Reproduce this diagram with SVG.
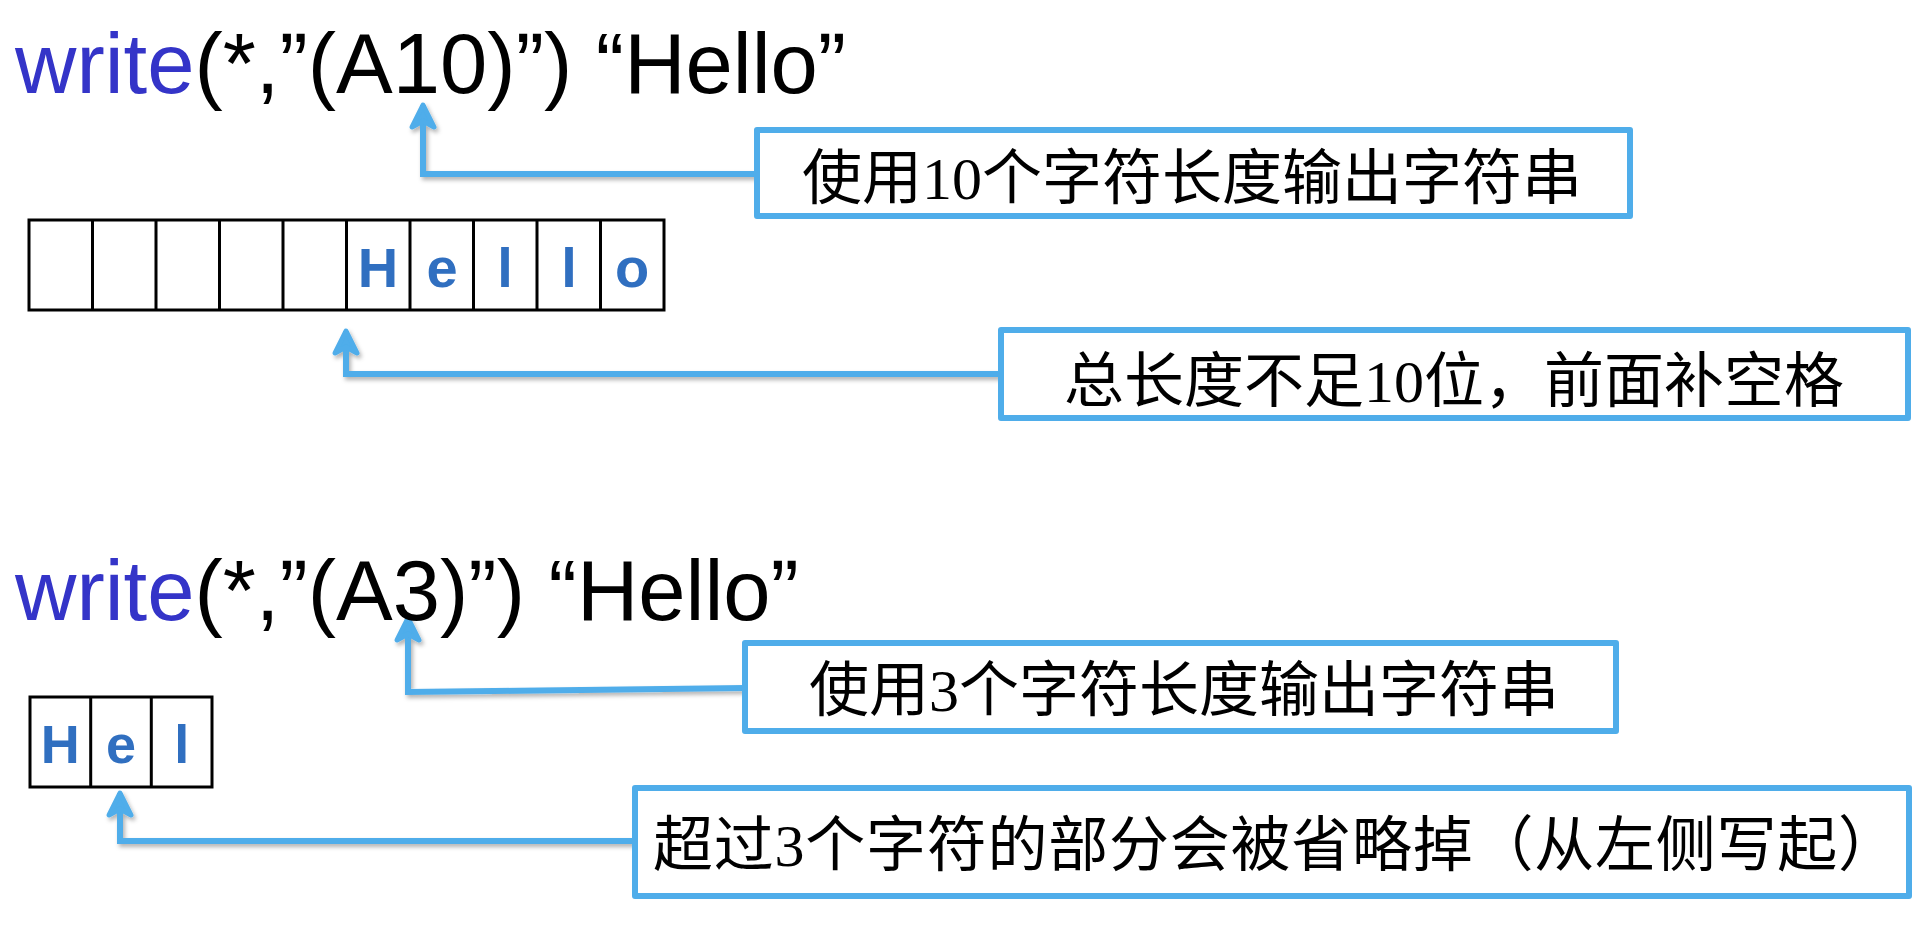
<svg xmlns="http://www.w3.org/2000/svg" width="1919" height="931" viewBox="0 0 1919 931">
<style>
.code{font-family:"Liberation Sans",Arial,sans-serif;font-size:85px;fill:#000}
.kw{fill:#3434C8}
.cell{fill:#fff;stroke:#000;stroke-width:3}
.div{stroke:#000;stroke-width:3}
.ch{font-family:"Liberation Sans",Arial,sans-serif;font-weight:bold;fill:#306FC0;text-anchor:middle}
.box{fill:#fff;stroke:#4FADEA;stroke-width:6;stroke-linejoin:round}
.note{font-family:"Liberation Serif","Noto Sans CJK SC",serif;font-size:60px;fill:#000;text-anchor:middle}
.conn{fill:none;stroke:#4FADEA;stroke-width:6;stroke-linejoin:miter}
</style>
<defs>
<filter id="sh" x="-10%" y="-50%" width="120%" height="200%">
<feDropShadow dx="2" dy="3" stdDeviation="2" flood-color="#000" flood-opacity="0.3"/>
</filter>
<marker id="ah" markerUnits="userSpaceOnUse" markerWidth="40" markerHeight="40" viewBox="-30 -20 40 40" refX="0" refY="0" orient="auto" overflow="visible">
<path d="M-22,-11 L0,0 L-22,11 L-16,0 Z" fill="#4FADEA" stroke="#4FADEA" stroke-width="5" stroke-linejoin="round" stroke-linecap="round"/>
</marker>
</defs>
<rect width="1919" height="931" fill="#fff"/>

<g id="connectors" filter="url(#sh)">
<path class="conn" d="M757,174 H423 V105" marker-end="url(#ah)"/>
<path class="conn" d="M1001,374 H346 V331" marker-end="url(#ah)"/>
<path class="conn" d="M745,688 L408,692 V618" marker-end="url(#ah)"/>
<path class="conn" d="M635,841 H120 V793" marker-end="url(#ah)"/>
</g>

<g id="code1">
<text class="code" x="15" y="93"><tspan class="kw">write</tspan>(*,”(A10)”) “Hello”</text>
</g>

<g id="note1">
<rect class="box" x="757" y="130" width="873" height="86"/>
<text class="note" x="1192" y="199">使用10个字符长度输出字符串</text>
</g>

<g id="table1">
<rect class="cell" x="29" y="220" width="635" height="90"/>
<path class="div" d="M92.5,220V310M156,220V310M219.5,220V310M283,220V310M346.5,220V310M410,220V310M473.5,220V310M537,220V310M600.5,220V310"/>
<g font-size="56">
<text class="ch" x="378" y="287">H</text>
<text class="ch" x="442" y="287">e</text>
<text class="ch" x="505" y="287">l</text>
<text class="ch" x="569" y="287">l</text>
<text class="ch" x="632" y="287">o</text>
</g>
</g>

<g id="note2">
<rect class="box" x="1001" y="330" width="907" height="88"/>
<text class="note" x="1454" y="402">总长度不足10位，前面补空格</text>
</g>

<g id="code2">
<text class="code" x="15" y="620"><tspan class="kw">write</tspan>(*,”(A3)”) “Hello”</text>
</g>

<g id="note3">
<rect class="box" x="745" y="643" width="871" height="88"/>
<text class="note" x="1184" y="711">使用3个字符长度输出字符串</text>
</g>

<g id="table2">
<rect class="cell" x="30" y="697" width="182" height="90"/>
<path class="div" d="M90.7,697V787M151.3,697V787"/>
<g font-size="54">
<text class="ch" x="60.3" y="763">H</text>
<text class="ch" x="121" y="763">e</text>
<text class="ch" x="181.7" y="763">l</text>
</g>
</g>

<g id="note4">
<rect class="box" x="635" y="788" width="1274" height="108"/>
<text class="note" x="653" y="866" style="text-anchor:start" textLength="1245" lengthAdjust="spacing">超过3个字符的部分会被省略掉（从左侧写起）</text>
</g>
</svg>
